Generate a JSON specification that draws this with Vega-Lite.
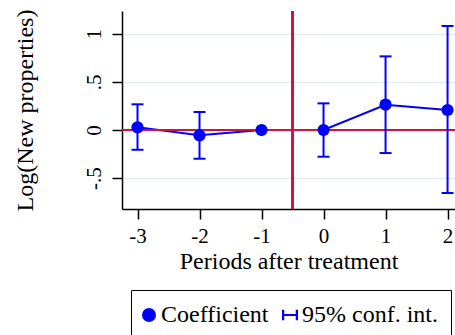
{
  "$schema": "https://vega.github.io/schema/vega-lite/v6.json",
  "width": 333,
  "height": 198,
  "autosize": {"type": "none"},
  "padding": {"left": 122, "top": 11, "right": 0, "bottom": 126},
  "background": "white",
  "config": {"view": {"stroke": null}, "font": "Liberation Serif"},
  "data": {
    "values": [
      {"t": -3, "b": 0.028, "lo": -0.205, "hi": 0.267, "series": "Coefficient"},
      {"t": -2, "b": -0.055, "lo": -0.298, "hi": 0.187, "series": "Coefficient"},
      {"t": -1, "b": 0.0, "lo": null, "hi": null, "series": "Coefficient"},
      {"t": 0, "b": 0.0, "lo": -0.277, "hi": 0.277, "series": "Coefficient"},
      {"t": 1, "b": 0.263, "lo": -0.239, "hi": 0.765, "series": "Coefficient"},
      {"t": 2, "b": 0.208, "lo": -0.654, "hi": 1.08, "series": "Coefficient"}
    ]
  },
  "layer": [
    {
      "mark": {"type": "line", "color": "blue", "strokeWidth": 2},
      "encoding": {
        "x": {
          "field": "t", "type": "quantitative",
          "scale": {"domain": [-3.25, 2.12], "nice": false, "zero": false},
          "axis": {
            "values": [-3, -2, -1, 0, 1, 2],
            "labelExpr": "datum.value < 0 ? '-' + (-datum.value) : '' + datum.value",
            "title": "Periods after treatment", "grid": false,
            "tickSize": 10, "tickColor": "black", "tickWidth": 1.5,
            "domainColor": "black", "domainWidth": 1.5,
            "labelFont": "Liberation Serif", "labelFontSize": 21, "labelColor": "black", "labelPadding": 6,
            "titleFont": "Liberation Serif", "titleFontSize": 24, "titleFontWeight": "normal", "titleColor": "black", "titlePadding": 3
          }
        },
        "y": {
          "field": "b", "type": "quantitative",
          "scale": {"domain": [-0.82, 1.236], "nice": false, "zero": false},
          "axis": {
            "values": [-0.5, 0, 0.5, 1],
            "labelExpr": "datum.value == 0 ? '0' : datum.value == 1 ? '1' : datum.value < 0 ? '-.5' : '.5'",
            "title": "Log(New properties)", "grid": true, "gridColor": "#e5edf0", "gridWidth": 1.5,
            "tickSize": 10, "tickColor": "black", "tickWidth": 1.5,
            "domainColor": "black", "domainWidth": 1.5,
            "labelAngle": -90, "labelAlign": "center", "labelBaseline": "alphabetic",
            "labelFont": "Liberation Serif", "labelFontSize": 21, "labelColor": "black", "labelPadding": 12,
            "titleFont": "Liberation Serif", "titleFontSize": 24, "titleFontWeight": "normal", "titleColor": "black", "titlePadding": 46
          }
        }
      }
    },
    {
      "mark": {"type": "rule", "color": "#cc1440", "strokeWidth": 2},
      "encoding": {"y": {"datum": 0, "type": "quantitative"}}
    },
    {
      "mark": {"type": "rule", "color": "#cc1440", "strokeWidth": 2},
      "encoding": {"x": {"datum": -0.5, "type": "quantitative"}}
    },
    {
      "transform": [{"filter": "datum.lo != null"}],
      "mark": {"type": "rule", "color": "blue", "strokeWidth": 2},
      "encoding": {
        "x": {"field": "t", "type": "quantitative"},
        "y": {"field": "lo", "type": "quantitative"},
        "y2": {"field": "hi"}
      }
    },
    {
      "transform": [{"filter": "datum.lo != null"}],
      "mark": {"type": "tick", "orient": "horizontal", "color": "blue", "size": 12, "thickness": 2, "opacity": 1},
      "encoding": {
        "x": {"field": "t", "type": "quantitative"},
        "y": {"field": "hi", "type": "quantitative"}
      }
    },
    {
      "transform": [{"filter": "datum.lo != null"}],
      "mark": {"type": "tick", "orient": "horizontal", "color": "blue", "size": 12, "thickness": 2, "opacity": 1},
      "encoding": {
        "x": {"field": "t", "type": "quantitative"},
        "y": {"field": "lo", "type": "quantitative"}
      }
    },
    {
      "mark": {"type": "point", "filled": true, "color": "blue", "size": 150, "opacity": 1},
      "encoding": {
        "x": {"field": "t", "type": "quantitative"},
        "y": {"field": "b", "type": "quantitative"},
        "shape": {
          "field": "series", "type": "nominal",
          "scale": {
            "domain": ["Coefficient", "95% conf. int."],
            "range": ["circle", "M-1.15,-0.75H-0.82V-0.16H0.82V-0.75H1.15V0.75H0.82V0.16H-0.82V0.75H-1.15Z"]
          },
          "legend": {
            "orient": "none", "legendX": 9, "legendY": 279, "direction": "horizontal",
            "title": null, "strokeColor": "black", "padding": 13,
            "labelFont": "Liberation Serif", "labelFontSize": 24, "labelColor": "black",
            "labelOffset": 0, "symbolOffset": -7, "columnPadding": 12, "symbolSize": 196,
            "symbolStrokeWidth": 0, "symbolFillColor": "blue",
            "encode": {
              "symbols": {"update": {"fill": {"value": "blue"}, "strokeWidth": {"value": 0}, "opacity": {"value": 1}}},
              "legend": {"update": {"strokeWidth": {"value": 1.5}}}
            }
          }
        }
      }
    }
  ]
}
